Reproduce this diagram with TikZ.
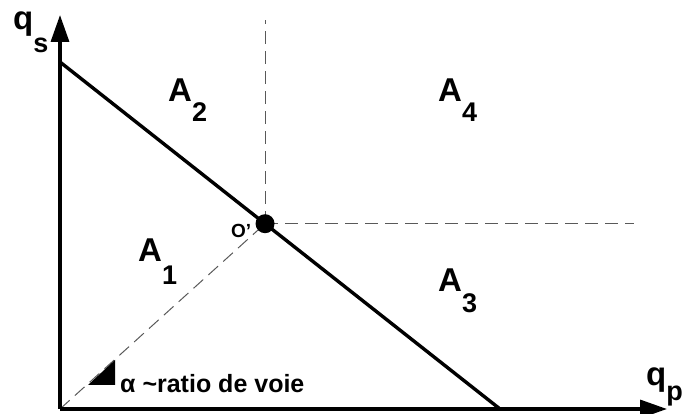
\documentclass[tikz,border=0pt]{standalone}
\usepackage{fontspec}
\setmainfont{Liberation Sans}
\usepackage{tikz}
\usetikzlibrary{arrows.meta,calc}
\newcommand\lowsub[2]{\raisebox{-#1}{\fontsize{27}{27}\selectfont #2}}

\begin{document}
\begin{tikzpicture}[x=1pt,y=1pt,
  lbl/.style={inner sep=0pt,anchor=base west,font=\fontsize{33}{35}\selectfont\bfseries},
  axis/.style={line width=3.4pt,-{Triangle[length=27pt,width=18pt]}},
  guide/.style={gray!70!black,line width=1pt,dash pattern=on 13pt off 7pt}]
\useasboundingbox (0,0) rectangle (684,414);
\coordinate (o) at (60,5);
\coordinate (ytip) at (60,399); \coordinate (xtip) at (667,5);
\coordinate (s) at (60,352); \coordinate (e) at (500,5);
\coordinate (op) at ($(s)!0.466!(e)$);
\coordinate (vtop) at ($(op|-0,394)$); \coordinate (hend) at ($(634,0|-op)$);
% dashed guides
\draw[guide] (op) -- (vtop);
\draw[guide] (op) -- (hend);
\draw[guide] (o) -- (op);
% axes and line
\draw[axis] (o) -- (ytip);
\draw[axis] (o) -- (xtip);
\draw[line width=3.4pt] (s) -- (e);
\fill (op) circle (9.5pt);
\node[lbl,font=\fontsize{19}{21}\selectfont\bfseries] (olbl) at (231,176) {O’};
% labels
\node[lbl] (qs) at (13,384) {q\lowsub{23pt}{s}};
\node[lbl] (qp) at (646,28) {q\lowsub{15pt}{p}};
\node[lbl] (a1) at (138,152) {A\lowsub{23pt}{1}};
\node[lbl] (a2) at (168,312) {A\lowsub{20pt}{2}};
\node[lbl] (a3) at (438,122) {A\lowsub{21pt}{3}};
\node[lbl] (a4) at (438,312) {A\lowsub{20pt}{4}};
\fill (88,29) -- (115,54) -- (115,29) -- cycle;
\node[lbl,font=\fontsize{25}{27}\selectfont\bfseries] (ratio) at (120,21) {α \textasciitilde ratio de voie};
\end{tikzpicture}
\end{document}
